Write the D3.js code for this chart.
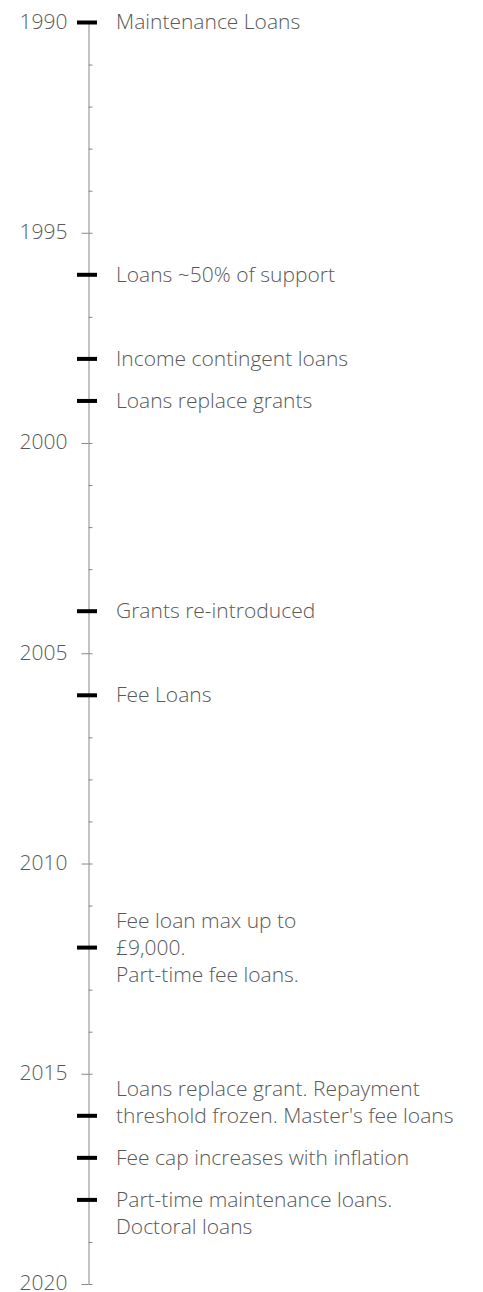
<!DOCTYPE html>
<html>
<head>
<meta charset="utf-8">
<script src="https://cdn.jsdelivr.net/npm/d3@7"></script>
<style>
  html, body { margin: 0; padding: 0; background: #fff; }
  svg { display: block; }
  text { font-family: "Open Sans", "Noto Sans", sans-serif; }
</style>
</head>
<body>
<div id="chart"></div>
<script>
// ---- data ----
const yearDomain = [1990, 2020];
const majorYears = [1990, 1995, 2000, 2005, 2010, 2015, 2020];
const minorYears = d3.range(1990, 2021);
const eventYears = [1990, 1996, 1998, 1999, 2004, 2006, 2012, 2016, 2017, 2018];
const eventLabels = [
  ["Maintenance Loans"],
  ["Loans ~50% of support"],
  ["Income contingent loans"],
  ["Loans replace grants"],
  ["Grants re-introduced"],
  ["Fee Loans"],
  ["Fee loan max up to", "£9,000.", "Part-time fee loans."],
  ["Loans replace grant. Repayment", "threshold frozen. Master's fee loans"],
  ["Fee cap increases with inflation"],
  ["Part-time maintenance loans.", "Doctoral loans"]
];
// which line of each label sits level with its marker
const eventAnchorLine = [0, 0, 0, 0, 0, 0, 1, 1, 0, 0];

// ---- layout ----
const W = 483, H = 1292;
const axisX = 88.5;
const fontSize = 21;
const lineH = 27;
const textColor = "#595959";
const axisColor = "#888";
const family = '"Open Sans", "Noto Sans", sans-serif';

const svg = d3.select("#chart").append("svg")
  .attr("width", W).attr("height", H);

const y = d3.scaleLinear().domain(yearDomain).range([22.5, 1284]);

// minor ticks (right side) + axis line
const minorAxis = d3.axisRight(y)
  .tickValues(minorYears)
  .tickSize(4)
  .tickSizeOuter(0)
  .tickFormat("");
const gMinor = svg.append("g").attr("transform", `translate(${axisX},0)`).call(minorAxis);
gMinor.select(".domain").attr("stroke", axisColor).attr("stroke-width", 1);
gMinor.selectAll(".tick line").attr("stroke", axisColor);

// major ticks (left side) with year labels
const majorAxis = d3.axisLeft(y)
  .tickValues(majorYears)
  .tickSize(7)
  .tickPadding(14)
  .tickFormat(d3.format("d"));
const gMajor = svg.append("g").attr("transform", `translate(${axisX},0)`).call(majorAxis);
gMajor.select(".domain").remove();
gMajor.selectAll(".tick line").attr("stroke", axisColor);
gMajor.selectAll(".tick text")
  .attr("font-size", fontSize)
  .attr("fill", textColor)
  .attr("font-family", family)
  .attr("font-weight", 300)
  .attr("dy", "0.28em");

// event markers
const events = eventYears.map((yr, i) => ({ yr, lines: eventLabels[i], anchor: eventAnchorLine[i] }));

svg.append("g").selectAll("line.ev")
  .data(events).join("line")
  .attr("class", "ev")
  .attr("x1", axisX - 11.5).attr("x2", axisX + 8.5)
  .attr("y1", d => y(d.yr)).attr("y2", d => y(d.yr))
  .attr("stroke", "#000").attr("stroke-width", 4);

// event labels
const labels = svg.append("g").selectAll("text.lab")
  .data(events).join("text")
  .attr("class", "lab")
  .attr("x", axisX + 27.5)
  .attr("y", d => y(d.yr))
  .attr("font-size", fontSize)
  .attr("font-weight", 300)
  .attr("fill", textColor);

labels.selectAll("tspan")
  .data(d => d.lines.map((t, j) => ({ t, off: (j - d.anchor) * lineH, base: y(d.yr) })))
  .join("tspan")
  .attr("x", axisX + 27.5)
  .attr("y", d => d.base + d.off)
  .attr("dy", "0.33em")
  .text(d => d.t);
</script>
</body>
</html>
